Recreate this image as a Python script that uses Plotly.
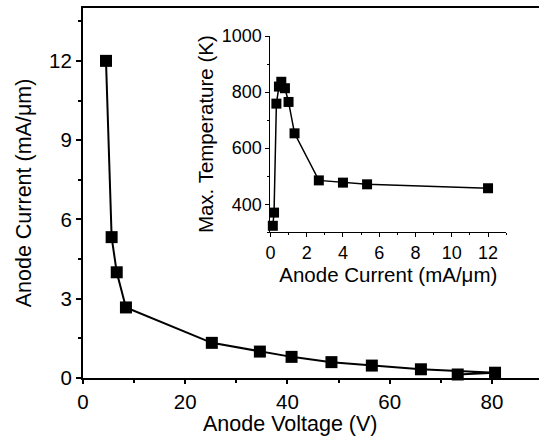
import plotly.graph_objects as go

# Main plot data
anode_voltage = [4.5, 5.6, 6.6, 8.4, 25.2, 34.6, 40.8, 48.6, 56.5, 66.1, 80.6, 73.3]
anode_current = [12.0, 5.33, 4.0, 2.67, 1.33, 1.0, 0.8, 0.6, 0.47, 0.33, 0.2, 0.133]

# Inset data
inset_current = [0.133, 0.2, 0.33, 0.47, 0.6, 0.8, 1.0, 1.33, 2.67, 4.0, 5.33, 12.0]
inset_temp = [323, 370, 759, 820, 837, 814, 765, 653, 485, 477, 471, 457]

main_ticks_x = [0, 20, 40, 60, 80]
main_ticks_y = [0, 3, 6, 9, 12]
inset_ticks_x = [0, 2, 4, 6, 8, 10, 12]
inset_ticks_y = [400, 600, 800, 1000]

FONT = "Liberation Sans, Arial, sans-serif"

fig = go.Figure()
fig.add_trace(go.Scatter(
    x=anode_voltage, y=anode_current, mode="lines+markers",
    line=dict(color="black", width=2),
    marker=dict(symbol="square", size=12, color="black"),
    xaxis="x", yaxis="y", showlegend=False, cliponaxis=False))
fig.add_trace(go.Scatter(
    x=inset_current, y=inset_temp, mode="lines+markers",
    line=dict(color="black", width=1.5),
    marker=dict(symbol="square", size=10, color="black"),
    xaxis="x2", yaxis="y2", showlegend=False, cliponaxis=False))

axis_common = dict(showgrid=False, zeroline=False, showline=True, automargin=False,
                   linecolor="black", ticks="outside", tickcolor="black",
                   tickfont=dict(family=FONT, size=20.5, color="black"))

fig.update_layout(
    width=539, height=441,
    margin=dict(l=83, r=0, t=8, b=63, autoexpand=False),
    paper_bgcolor="white", plot_bgcolor="white",
    font=dict(family=FONT, color="black"),
    xaxis=dict(**axis_common, range=[0, 89.2], tickvals=main_ticks_x,
               linewidth=2, ticklen=4, tickwidth=1.5, mirror=True,
               minor=dict(dtick=10, ticklen=3, ticks="outside", tickcolor="black")),
    yaxis=dict(**axis_common, range=[0, 14], tickvals=main_ticks_y,
               linewidth=2, ticklen=5, tickwidth=1.5,
               minor=dict(dtick=1.5, ticklen=3, ticks="outside", tickcolor="black"),
               title=dict(text="Anode Current (mA/\u03bcm)", font=dict(family=FONT, size=21.5), standoff=12)),
    xaxis2=dict(showgrid=False, zeroline=False, showline=True, linecolor="black",
                ticks="outside", tickcolor="black", linewidth=1, ticklen=4,
                tickfont=dict(family=FONT, size=18, color="black"),
                domain=[0.411, 0.928], anchor="y2", range=[0, 13], tickvals=inset_ticks_x,
                minor=dict(dtick=1, ticklen=2, ticks="outside", tickcolor="black"),
                title=dict(text="Anode Current (mA/\u03bcm)", font=dict(family=FONT, size=20.5), standoff=0)),
    yaxis2=dict(showgrid=False, zeroline=False, showline=True, linecolor="black",
                ticks="outside", tickcolor="black", linewidth=1, ticklen=4,
                tickfont=dict(family=FONT, size=18, color="black"),
                domain=[0.394, 0.924], anchor="x2", range=[300, 1000], tickvals=inset_ticks_y,
                minor=dict(dtick=100, ticklen=2, ticks="outside", tickcolor="black"),
                title=dict(text="Max. Temperature (K)", font=dict(family=FONT, size=20.5), standoff=2)),
    annotations=[dict(text="Anode Voltage (V)", xref="x domain", yref="paper",
                      x=(290 - 83) / 456, y=0, xanchor="center", yanchor="middle",
                      yshift=-46, showarrow=False,
                      font=dict(family=FONT, size=21.5, color="black"))],
)

fig.write_html("out.html", config={"displayModeBar": False},
               post_script="document.body.style.margin='0';document.body.style.overflow='hidden';")
